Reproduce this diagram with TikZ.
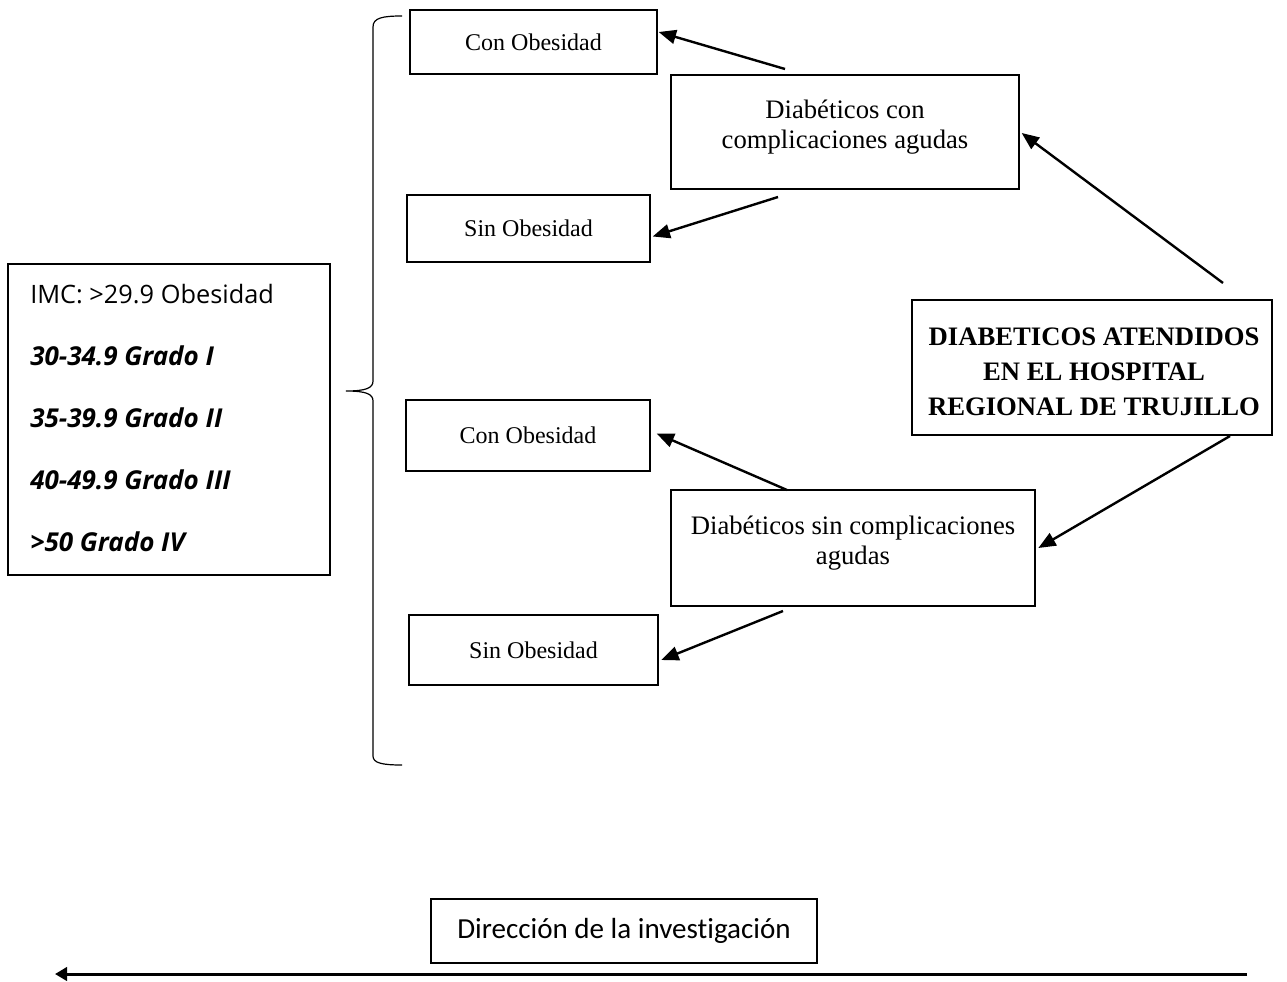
\documentclass[tikz,border=0pt]{standalone}
\usepackage{fontspec}
\setmainfont{Liberation Serif}
\newfontfamily\osans{Open Sans}
\newfontfamily\carl[Ligatures=NoCommon]{Carlito}
\usetikzlibrary{arrows.meta,calc}
\begin{document}
\begin{tikzpicture}[x=0.75pt,y=-0.75pt,
  box/.style={draw, line width=1pt, inner sep=0pt, rectangle},
  small/.style={font=\fontsize{18}{22}\selectfont},
  mid/.style={font=\fontsize{20}{23}\selectfont, align=center, inner sep=0pt},
  imcline/.style={font=\osans\fontsize{19}{23}\selectfont, anchor=base west, inner sep=0pt},
  imcbold/.style={imcline, font=\osans\fontsize{19.5}{23}\selectfont\bfseries\itshape},
  arr/.style={-{Triangle[length=13pt,width=10.5pt]}, line width=1.8pt},
  brace/.style={line width=0.9pt}]
\useasboundingbox (0,0) rectangle (1287,981);
% boxes
\node[box, small, minimum width=185.25pt, minimum height=48pt] (co1) at (533.5,42) {Con Obesidad};
\node[box, minimum width=261pt, minimum height=85.5pt] (dca) at (845,132) {};
\node[mid] (dcat) at (845,127) {Diabéticos con\\complicaciones agudas};
\node[box, small, minimum width=182.25pt, minimum height=50.25pt] (so1) at (528.5,228.5) {Sin Obesidad};
\node[box, minimum width=241.5pt, minimum height=233.25pt] (imc) at (169,419.5) {};
\node[imcline] (imc1) at (30,303) {IMC: >29.9 Obesidad};
\node[imcbold] (imc2) at (30,365) {30-34.9 Grado I};
\node[imcbold] (imc3) at (30,427) {35-39.9 Grado II};
\node[imcbold] (imc4) at (30,489) {40-49.9 Grado III};
\node[imcbold] (imc5) at (30,551) {>50 Grado IV};
\node[box, minimum width=270pt, minimum height=101.25pt] (dath) at (1092,367.5) {};
\node[font=\bfseries\fontsize{20}{26.25}\selectfont, align=center, inner sep=0pt] (datht) at (1094,372) {DIABETICOS ATENDIDOS\\EN EL HOSPITAL\\REGIONAL DE TRUJILLO};
\node[box, small, minimum width=183pt, minimum height=53.25pt] (co2) at (528,435.5) {Con Obesidad};
\node[box, minimum width=273pt, minimum height=87pt] (dsca) at (853,548) {};
\node[mid] (dscat) at (853,543) {Diabéticos sin complicaciones\\agudas};
\node[box, small, minimum width=186.75pt, minimum height=52.5pt] (so2) at (533.5,650) {Sin Obesidad};
\node[box, minimum width=289.5pt, minimum height=48pt, font=\carl\fontsize{21.8}{25}\selectfont] (dir) at (624,931) {Dirección de la investigación};
% arrow start points
\coordinate (s1) at (785,69);
\coordinate (s2) at (778,197);
\coordinate (s3) at (1223,283);
\coordinate (s4) at (1230,436);
\coordinate (s5) at (787,490);
\coordinate (s6) at (783,611);
\coordinate (bs) at (1247,974);
\coordinate (be) at (55,974);
% connectors
\draw[arr] (s1) -- ([yshift=7.5pt,xshift=0.75pt]co1.east);
\draw[arr] (s2) -- ([yshift=-6pt,xshift=1.5pt]so1.east);
\draw[arr] (s3) -- ([yshift=-0.75pt,xshift=1.5pt]dca.east);
\draw[arr] (s4) -- ([xshift=2pt]dsca.east);
\draw[arr] (s5) -- ([yshift=1.5pt,xshift=4.5pt]co2.east);
\draw[arr] (s6) -- ([yshift=-7.5pt,xshift=2pt]so2.east);
\draw[-{Triangle[length=9pt,width=10pt]}, line width=2.25pt] (bs) -- (be);
% brace
\draw[brace] (402,16) .. controls (382,16) and (373,18) .. (373,27) -- (373,381)
  .. controls (373,388) and (366,391) .. (346,391)
  .. controls (366,391) and (373,394) .. (373,401) -- (373,756)
  .. controls (373,763) and (382,765) .. (402,765);
\end{tikzpicture}
\end{document}
